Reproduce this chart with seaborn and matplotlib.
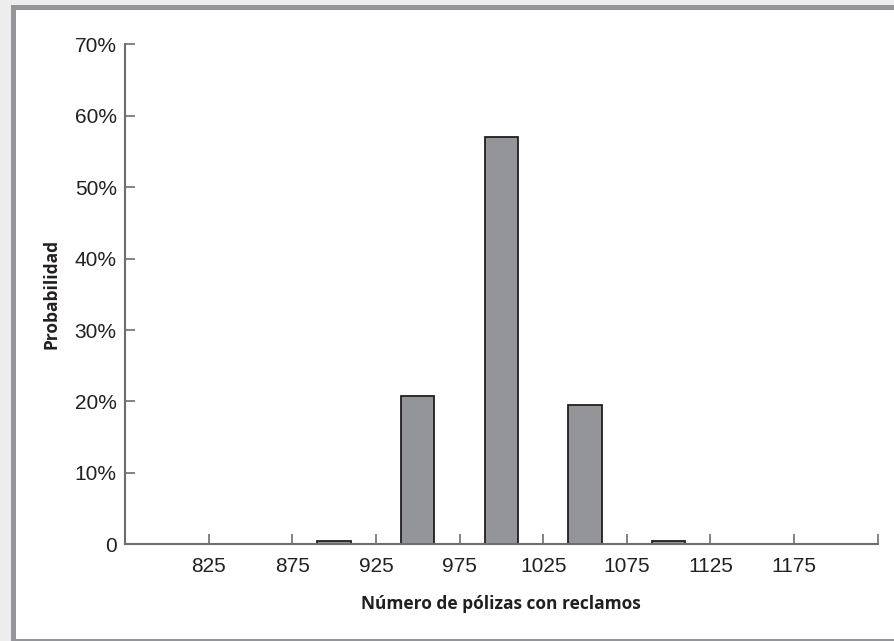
import numpy as np
import pandas as pd
import seaborn as sns
import matplotlib.pyplot as plt
from matplotlib.patches import Rectangle

# =========================
# Data
# =========================
polizas = [900, 950, 1000, 1050, 1100]
probabilidad = [0.5, 20.8, 57.0, 19.5, 0.5]

tick_vals = [825, 875, 925, 975, 1025, 1075, 1125, 1175, 1225]
tick_labels = ["825", "875", "925", "975", "1025", "1075", "1125", "1175", ""]
y_ticks = [0, 10, 20, 30, 40, 50, 60, 70]
y_labels = ["0", "10%", "20%", "30%", "40%", "50%", "60%", "70%"]

df = pd.DataFrame({"polizas": polizas, "prob": probabilidad})

# =========================
# Plot
# =========================
sns.set_style("white")
plt.rcParams["font.family"] = ["Liberation Sans Narrow", "Liberation Sans", "DejaVu Sans"]

W, H = 894, 641
fig = plt.figure(figsize=(W / 100, H / 100), dpi=100)
fig.patch.set_facecolor("#ededed")

# panel frame
def px(x0, y0, x1, y1, color):
    fig.add_artist(Rectangle((x0 / W, 1 - y1 / H), (x1 - x0) / W, (y1 - y0) / H,
                             transform=fig.transFigure, facecolor=color,
                             edgecolor="none", zorder=0))

px(11, 5, W, H, "#939598")
px(16, 10, W, H - 2, "white")

ax = fig.add_axes([125 / W, 1 - 544.3 / H, (877.7 - 125) / W, 500 / H])
ax.set_facecolor("none")

sns.barplot(data=df, x="polizas", y="prob", native_scale=True, width=0.4,
            color="#939598", saturation=1, edgecolor="#231f20", linewidth=1.3,
            ax=ax)

ax.set_xlim(775, 1225)
ax.set_ylim(0, 70)
ax.set_xticks(tick_vals)
ax.set_xticklabels(tick_labels)
ax.set_yticks(y_ticks)
ax.set_yticklabels(y_labels)

for side in ["top", "right"]:
    ax.spines[side].set_visible(False)
for side in ["left", "bottom"]:
    ax.spines[side].set_color("#6d6e71")
    ax.spines[side].set_linewidth(1.5)

ax.tick_params(axis="both", direction="in", length=7, width=1.2,
               bottom=True, left=True,
               color="#6d6e71", labelsize=15, labelcolor="#231f20")
ax.tick_params(axis="x", pad=9)
ax.tick_params(axis="y", pad=6)

label_font = dict(family=["Open Sans", "DejaVu Sans"], weight="bold",
                  size=12.5, color="#231f20")
ax.set_xlabel("Número de pólizas con reclamos", labelpad=14, **label_font)
ax.set_ylabel("Probabilidad", labelpad=10, **label_font)

plt.savefig("out.png", dpi=100, facecolor=fig.get_facecolor())
